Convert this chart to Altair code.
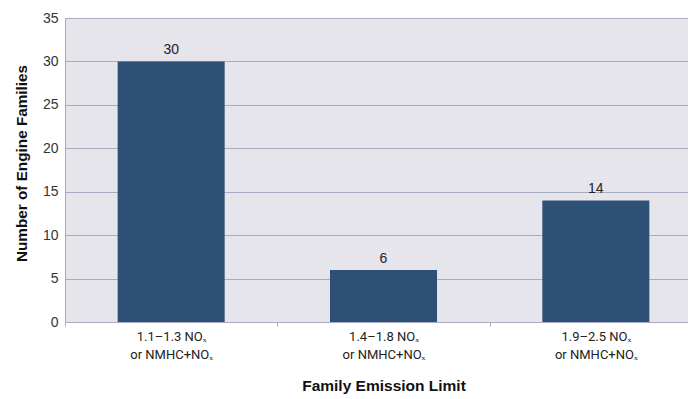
import altair as alt
import pandas as pd

categories = ["1.1–1.3 NOₓ|or NMHC+NOₓ", "1.4–1.8 NOₓ|or NMHC+NOₓ", "1.9–2.5 NOₓ|or NMHC+NOₓ"]
values = [30, 6, 14]
y_ticks = [0, 5, 10, 15, 20, 25, 30, 35]

df = pd.DataFrame({"cat": categories, "val": values})

x = alt.X("cat:N", sort=categories, title="Family Emission Limit",
          scale=alt.Scale(paddingInner=0, paddingOuter=0, range=[0, 637]),
          axis=alt.Axis(labelAngle=0, labelExpr="split(datum.label, '|')",
                        labelFont="Roboto", labelFontSize=13,
                        labelColor="#222222", labelPadding=4, labelLineHeight=18,
                        tickBand="extent", ticks=True, tickSize=4, tickColor="#a9abc4",
                        domainColor="#a9abc4", grid=False,
                        titleFont="Liberation Sans", titleFontSize=15.5, titleFontWeight="bold",
                        titleColor="#111111", titlePadding=17))
y = alt.Y("val:Q", title="Number of Engine Families",
          scale=alt.Scale(domain=[0, 35], nice=False),
          axis=alt.Axis(values=y_ticks, ticks=False, labelFont="Liberation Sans",
                        labelFontSize=14, labelColor="#333333", labelPadding=7,
                        gridColor="#a9abc4", domainColor="#a9abc4",
                        titleFont="Liberation Sans", titleFontSize=15.3, titleFontWeight="bold",
                        titleColor="#111111", titlePadding=13, titleY=145))

bars = alt.Chart(df).mark_bar(color="#2e5077", width=alt.RelativeBandSize(0.504)).encode(x=x, y=y)
labels = alt.Chart(df).mark_text(dy=-11, font="Liberation Sans", fontSize=14,
                                 color="#222222").encode(
    x=alt.X("cat:N", sort=categories), y="val:Q", text="val:Q")

chart = (bars + labels).properties(
    width=623, height=304,
    autosize=alt.AutoSizeParams(type="none"),
    padding={"left": 57, "top": 10, "right": 0, "bottom": 74},
    background="white",
).configure_view(fill="#e6e5ec", stroke=None)

chart.save("out.html", embed_options={"renderer": "svg", "actions": False})
